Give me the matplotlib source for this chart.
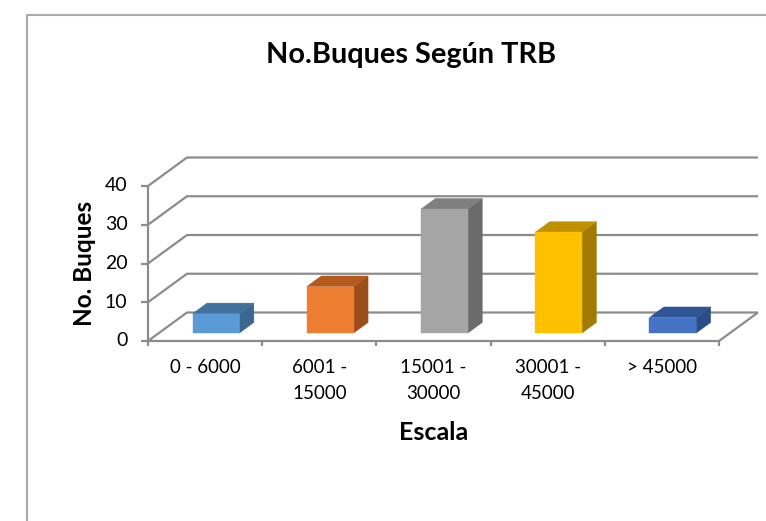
import matplotlib
matplotlib.use("Agg")
import matplotlib.pyplot as plt
from matplotlib.patches import Polygon
from matplotlib.lines import Line2D

# data
categories = ["0 - 6000", "6001 -\n15000", "15001 -\n30000", "30001 -\n45000", "> 45000"]
buques = [5, 12, 32, 26, 4]
y_ticks = [0, 10, 20, 30, 40]

front_cols = ["#5B9BD5", "#ED7D31", "#A5A5A5", "#FFC000", "#4472C4"]
top_cols = ["#41719C", "#B55A1E", "#7F7F7F", "#BF9000", "#2F5597"]
side_cols = ["#3A6690", "#9C4E1A", "#6B6B6B", "#A37A00", "#2B4D86"]

plt.rcParams['font.family'] = ['Lato', 'DejaVu Sans']

W, H = 766, 521
fig = plt.figure(figsize=(W / 100, H / 100), dpi=100)

# axes box = front face of the 3d frame (pixels 148..719, 186..341)
ax = fig.add_axes([148 / W, 1 - 341 / H, 571 / W, 155 / H])
ax.set_xlim(0, len(categories))
ax.set_ylim(0, 40)
ax.axis('off')

# oblique depth offset, in data units
DX = 39 / 114.2
DY = 28.5 / 3.875
grid_col = "#8C8C8C"


def proj(x, y, d):
    return (x + d * DX, y + d * DY)


def line(pts, **kw):
    xs = [p[0] for p in pts]
    ys = [p[1] for p in pts]
    ax.add_line(Line2D(xs, ys, color=grid_col, lw=1.6, clip_on=False,
                       solid_capstyle='butt', **kw))


n = len(categories)
# side wall and back wall grid
for v in y_ticks:
    line([proj(0, v, 0), proj(0, v, 1), proj(n, v, 1)], zorder=1)
# floor edges and front axes
line([proj(0, 0, 0), proj(n, 0, 0), proj(n, 0, 1)], zorder=2)
line([proj(0, 0, 0), proj(0, 40, 0)], zorder=2)
for v in y_ticks:
    line([(-0.06, v), (0, v)], zorder=2)
    ax.text(-0.18, v, str(v), ha='right', va='center', fontsize=14,
            color="#000000")
for i in range(n + 1):
    line([(i, 0), (i, -1.4)], zorder=2)

# bars
w = 0.41
d0, d1 = 0.28, 0.65
for i, v in enumerate(buques):
    x0 = i + 0.5 - w / 2
    x1 = x0 + w
    front = [proj(x0, 0, d0), proj(x1, 0, d0), proj(x1, v, d0), proj(x0, v, d0)]
    top = [proj(x0, v, d0), proj(x1, v, d0), proj(x1, v, d1), proj(x0, v, d1)]
    side = [proj(x1, 0, d0), proj(x1, 0, d1), proj(x1, v, d1), proj(x1, v, d0)]
    for pts, c in [(side, side_cols[i]), (top, top_cols[i]), (front, front_cols[i])]:
        ax.add_patch(Polygon(pts, closed=True, facecolor=c, edgecolor=c,
                             lw=0.3, zorder=3, clip_on=False))

# category labels
for i, lab in enumerate(categories):
    ax.text(i + 0.5, -4.6, lab, ha='center', va='top', fontsize=13.5,
            linespacing=1.62)

# titles
fig.text(411 / W, 1 - 55 / H, "No.Buques Según TRB", ha='center', va='center',
         fontsize=20.8, fontweight='bold')
fig.text(85 / W, 1 - 263.5 / H, "No. Buques", ha='center', va='center',
         rotation=90, fontsize=17.5, fontweight='bold')
fig.text(433.5 / W, 1 - 432 / H, "Escala", ha='center', va='center',
         fontsize=18, fontweight='bold')

# chart area border (top and left edges visible)
fig.add_artist(Line2D([27 / W, 27 / W, 1], [0, 1 - 15 / H, 1 - 15 / H],
                      transform=fig.transFigure, color="#ABABAB", lw=1.5))

fig.savefig("out.png", dpi=100)
